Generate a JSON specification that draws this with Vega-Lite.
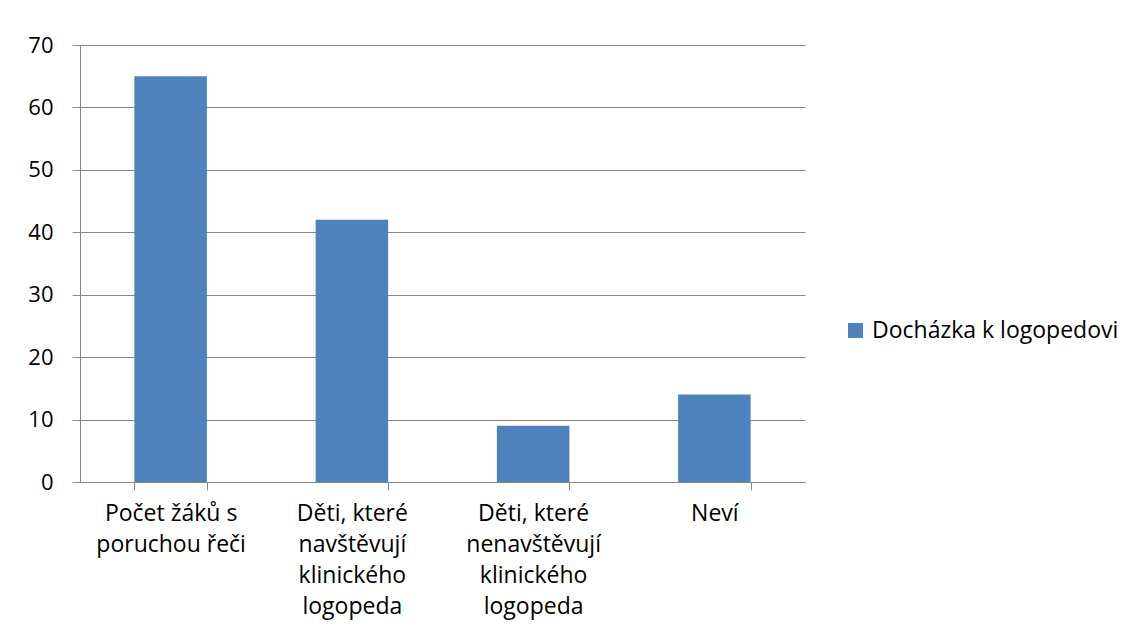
{
  "$schema": "https://vega.github.io/schema/vega-lite/v6.json",
  "autosize": "none",
  "width": 725,
  "height": 437,
  "padding": {"left": 80, "top": 45, "right": 328, "bottom": 157},
  "background": "white",
  "data": {"values": [
    {"kategorie": "Počet žáků s poruchou řeči", "pocet": 65, "serie": "Docházka k logopedovi"},
    {"kategorie": "Děti, které navštěvují klinického logopeda", "pocet": 42, "serie": "Docházka k logopedovi"},
    {"kategorie": "Děti, které nenavštěvují klinického logopeda", "pocet": 9, "serie": "Docházka k logopedovi"},
    {"kategorie": "Neví", "pocet": 14, "serie": "Docházka k logopedovi"}
  ]},
  "config": {
    "font": "Open Sans",
    "view": {"stroke": null}
  },
  "mark": {"type": "bar", "color": "#4F81BD"},
  "encoding": {
    "x": {
      "field": "kategorie", "type": "nominal", "sort": null,
      "scale": {"paddingInner": 0.6, "paddingOuter": 0.3},
      "axis": {
        "title": null, "labelAngle": 0, "labelFontSize": 23, "labelColor": "#000000",
        "labelFont": "Open Sans", "labelPadding": 12, "labelLineHeight": 31,
        "labelBaseline": "top", "labelLimit": 0,
        "labelExpr": "datum.value == 'Počet žáků s poruchou řeči' ? ['Počet žáků s','poruchou řeči'] : datum.value == 'Děti, které navštěvují klinického logopeda' ? ['Děti, které','navštěvují','klinického','logopeda'] : datum.value == 'Děti, které nenavštěvují klinického logopeda' ? ['Děti, které','nenavštěvují','klinického','logopeda'] : datum.value",
        "domainColor": "#868686", "tickColor": "#868686", "tickSize": 8,
        "tickBand": "extent", "grid": false
      }
    },
    "y": {
      "field": "pocet", "type": "quantitative",
      "scale": {"domain": [0, 70], "nice": false},
      "axis": {
        "title": null, "values": [0, 10, 20, 30, 40, 50, 60, 70],
        "labelFontSize": 22, "labelColor": "#000000", "labelPadding": 19,
        "tickSize": 8, "tickColor": "#868686", "domainColor": "#868686",
        "gridColor": "#868686", "gridWidth": 1
      }
    },
    "color": {
      "field": "serie", "type": "nominal",
      "scale": {"range": ["#4F81BD"]},
      "legend": {
        "title": null, "orient": "none", "legendX": 764, "legendY": 274,
        "symbolType": "square", "symbolSize": 225, "symbolStrokeWidth": 0,
        "labelFontSize": 23, "labelColor": "#000000", "labelFont": "Open Sans",
        "labelLimit": 0, "symbolOffset": 0, "labelOffset": 5
      }
    }
  }
}
